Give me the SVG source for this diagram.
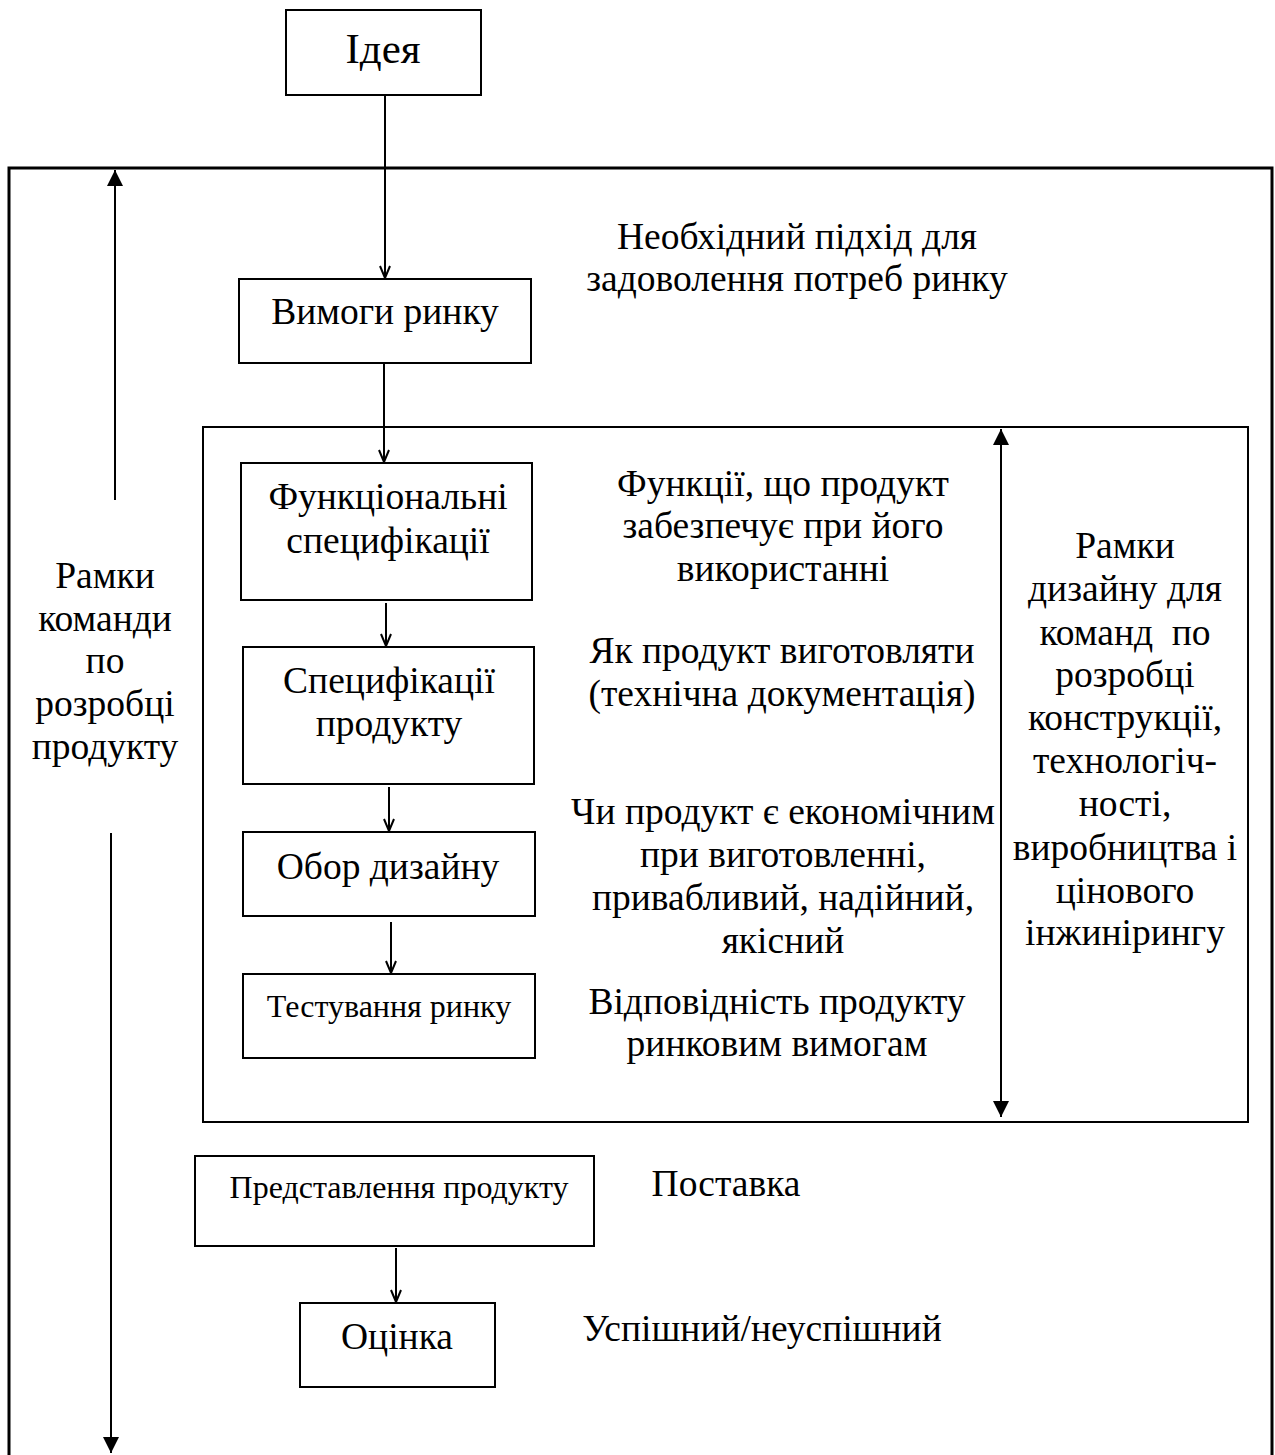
<svg xmlns="http://www.w3.org/2000/svg" width="1275" height="1455" viewBox="0 0 1275 1455">
<style>
text{font-family:"Liberation Serif","Times New Roman",serif;fill:#000;text-anchor:middle;font-size:37.5px}
.box{fill:#fff;stroke:#000;stroke-width:2}
.c{stroke:#000;stroke-width:2;fill:none}
.sm{font-size:32px}
</style>
<defs>
<marker id="v" markerUnits="userSpaceOnUse" markerWidth="16" markerHeight="16" viewBox="-14 -8 16 16" refX="0" refY="0" orient="auto">
<path d="M-12,-5 L0,0 L-12,5" fill="none" stroke="#000" stroke-width="2"/>
</marker>
<marker id="t" markerUnits="userSpaceOnUse" markerWidth="20" markerHeight="20" viewBox="-18 -10 20 20" refX="0" refY="0" orient="auto-start-reverse">
<path d="M-16,-8 L0,0 L-16,8 Z" fill="#000"/>
</marker>
</defs>
<g id="frames">
<path d="M9,1460 V168 H1272 V1460" fill="none" stroke="#000" stroke-width="3"/>
<rect x="203" y="427" width="1045" height="695" fill="none" stroke="#000" stroke-width="2"/>
</g>
<g id="connectors">
<line class="c" x1="385" y1="95" x2="385" y2="278" marker-end="url(#v)"/>
<line class="c" x1="384" y1="363" x2="384" y2="462" marker-end="url(#v)"/>
<line class="c" x1="386" y1="603" x2="386" y2="646" marker-end="url(#v)"/>
<line class="c" x1="389" y1="787" x2="389" y2="831" marker-end="url(#v)"/>
<line class="c" x1="391" y1="922" x2="391" y2="973" marker-end="url(#v)"/>
<line class="c" x1="396" y1="1248" x2="396" y2="1302" marker-end="url(#v)"/>
<line class="c" x1="115" y1="500" x2="115" y2="170" marker-end="url(#t)"/>
<line class="c" x1="111" y1="833" x2="111" y2="1453" marker-end="url(#t)"/>
<line class="c" x1="1001" y1="429" x2="1001" y2="1117" marker-start="url(#t)" marker-end="url(#t)"/>
</g>
<g id="idea"><rect class="box" x="286" y="10" width="195" height="85"/><text x="383" y="63" style="font-size:43px">Ідея</text></g>
<g id="vymohy"><rect class="box" x="239" y="279" width="292" height="84"/><text x="385" y="324">Вимоги ринку</text></g>
<g id="funkts"><rect class="box" x="241" y="463" width="291" height="137"/><text x="388" y="509">Функціональні</text><text x="388" y="553">специфікації</text></g>
<g id="spets"><rect class="box" x="243" y="647" width="291" height="137"/><text x="389" y="693">Специфікації</text><text x="389" y="736">продукту</text></g>
<g id="obor"><rect class="box" x="243" y="832" width="292" height="84"/><text x="388" y="879">Обор дизайну</text></g>
<g id="test"><rect class="box" x="243" y="974" width="292" height="84"/><text class="sm" x="389" y="1017">Тестування ринку</text></g>
<g id="predst"><rect class="box" x="195" y="1156" width="399" height="90"/><text class="sm" x="399" y="1198">Представлення продукту</text></g>
<g id="otsinka"><rect class="box" x="300" y="1303" width="195" height="84"/><text x="397" y="1349">Оцінка</text></g>
<g id="labels">
<text x="797" y="249">Необхідний підхід для</text>
<text x="797" y="291">задоволення потреб ринку</text>
<text x="783" y="496">Функції, що продукт</text>
<text x="783" y="538">забезпечує при його</text>
<text x="783" y="581">використанні</text>
<text x="782" y="663">Як продукт виготовляти</text>
<text x="782" y="706">(технічна документація)</text>
<text x="783" y="824">Чи продукт є економічним</text>
<text x="783" y="867">при виготовленні,</text>
<text x="783" y="910">привабливий, надійний,</text>
<text x="783" y="953">якісний</text>
<text x="777" y="1014">Відповідність продукту</text>
<text x="777" y="1056">ринковим вимогам</text>
<text x="726" y="1196">Поставка</text>
<text x="762" y="1341">Успішний/неуспішний</text>
<text x="105" y="588">Рамки</text>
<text x="105" y="631">команди</text>
<text x="105" y="673">по</text>
<text x="105" y="716">розробці</text>
<text x="105" y="759">продукту</text>
<text x="1125" y="558">Рамки</text>
<text x="1125" y="601">дизайну для</text>
<text x="1125" y="645" xml:space="preserve">команд  по</text>
<text x="1125" y="687">розробці</text>
<text x="1125" y="730">конструкції,</text>
<text x="1125" y="773">технологіч-</text>
<text x="1125" y="816">ності,</text>
<text x="1125" y="860">виробництва і</text>
<text x="1125" y="903">цінового</text>
<text x="1125" y="945">інжинірингу</text>
</g>
</svg>
